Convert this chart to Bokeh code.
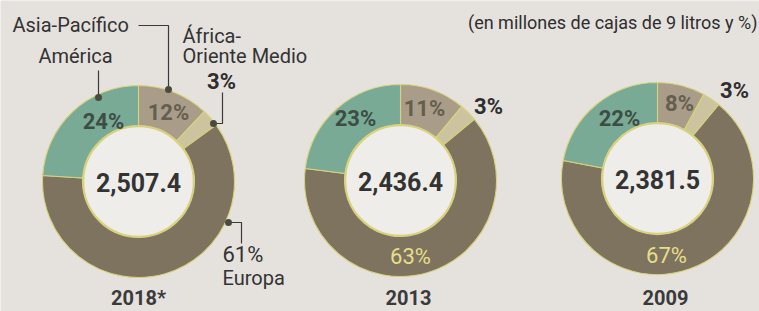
import math
from bokeh.plotting import figure
from bokeh.models import Range1d, ColumnDataSource
from bokeh.core.properties import value
from bokeh.embed import file_html
from bokeh.resources import INLINE

# ---- data ----
years = ["2018*", "2013", "2009"]
totals = ["2,507.4", "2,436.4", "2,381.5"]
regions = ["Asia-Pacífico", "África-Oriente Medio", "Europa", "América"]
asia_pacifico = [12, 11, 8]
africa_oriente_medio = [3, 3, 3]
europa = [61, 63, 67]
america = [24, 23, 22]
subtitle = "(en millones de cajas de 9 litros y %)"

# ---- style ----
W, H = 759, 311
BG = "#e5e2de"
HOLE = "#efede9"
COLORS = ["#a99d89", "#cbc49f", "#7e735f", "#79aa95"]
EDGE = "#d8d27c"
DARK = "#333333"
FONT = value("Roboto")


def P(X, Y):
    """reference-pixel -> data coordinates"""
    return X, H - Y


centers = [P(138, 181), P(400, 180), P(657, 178)]
R_OUT, R_IN = 96, 56

p = figure(width=W, height=H, x_range=Range1d(0, W), y_range=Range1d(0, H),
           output_backend="svg", toolbar_location=None, min_border=0,
           background_fill_color=BG, border_fill_color=BG, outline_line_color=None)
p.axis.visible = False
p.grid.visible = False

# donuts
for i, (cx, cy) in enumerate(centers):
    vals = [asia_pacifico[i], africa_oriente_medio[i], europa[i], america[i]]
    tot = sum(vals)
    cum = 0
    starts, ends = [], []
    for v in vals:
        starts.append(math.pi / 2 - 2 * math.pi * cum / tot)
        cum += v
        ends.append(math.pi / 2 - 2 * math.pi * cum / tot)
    src = ColumnDataSource(dict(x=[cx] * 4, y=[cy] * 4, s=starts, e=ends, c=COLORS))
    p.annular_wedge(x="x", y="y", inner_radius=R_IN, outer_radius=R_OUT,
                    start_angle="s", end_angle="e", direction="clock",
                    fill_color="c", line_color=EDGE, line_width=1.1, source=src)
    p.circle(x=cx, y=cy, radius=R_IN - 1, fill_color=HOLE, line_color=EDGE, line_width=1.5)
    # total in centre
    p.text(x=[cx], y=[cy - 1], text=[totals[i]], text_font=FONT, text_font_size="25px",
           text_font_style="bold", text_color=DARK, text_align="center",
           text_baseline="middle")
    # year
    p.text(x=[cx + (0 if i == 0 else 8)], y=[P(0, 297)[1]], text=[years[i]], text_font=FONT,
           text_font_size="20px", text_font_style="bold", text_color="#3a3a3a",
           text_align="center", text_baseline="middle")

# percentage labels inside the rings (offsets from donut centre, ref px)
label_pos = [
    {"america": (-35, -60), "asia": (30, -69), "europa": None},
    {"america": (-45, -62), "asia": (24, -72), "europa": (10, 76)},
    {"america": (-38, -60), "asia": (22, -75), "europa": (9, 77)},
]
for i, (cx, cy) in enumerate(centers):
    lp = label_pos[i]
    dx, dy = lp["america"]
    p.text(x=[cx + dx], y=[cy - dy], text=[f"{america[i]}%"], text_font=FONT,
           text_font_size="22px", text_font_style="bold", text_color="#3d4d46",
           text_align="center", text_baseline="middle")
    dx, dy = lp["asia"]
    p.text(x=[cx + dx], y=[cy - dy], text=[f"{asia_pacifico[i]}%"], text_font=FONT,
           text_font_size="22px", text_font_style="bold", text_color="#655d4f",
           text_align="center", text_baseline="middle")
    if lp["europa"]:
        dx, dy = lp["europa"]
        p.text(x=[cx + dx], y=[cy - dy], text=[f"{europa[i]}%"], text_font=FONT,
               text_font_size="22px", text_color="#e6de8a",
               text_align="center", text_baseline="middle")

# outside 3% labels for 2013 & 2009
for i, (X, Y) in [(1, (488, 106)), (2, (734, 90))]:
    x, y = P(X, Y)
    p.text(x=[x], y=[y], text=[f"{africa_oriente_medio[i]}%"], text_font=FONT,
           text_font_size="22px", text_font_style="bold", text_color="#2e2e2e",
           text_align="center", text_baseline="middle")

# ---- 2018 annotations ----
def txt(X, Y, s, size="20px", style="normal", align="left", color=DARK):
    x, y = P(X, Y)
    p.text(x=[x], y=[y], text=[s], text_font=FONT, text_font_size=size,
           text_font_style=style, text_color=color, text_align=align,
           text_baseline="middle")


def leader(points, dot):
    xs, ys = zip(*[P(*pt) for pt in points])
    p.line(list(xs), list(ys), line_color="#3a3a3a", line_width=1.2)
    dx, dy = P(*dot)
    p.scatter([dx], [dy], size=7, marker="circle", fill_color="#4a4a40", line_color=None)


txt(12, 24, regions[0])
leader([(138, 25), (168, 25), (168, 89)], (168, 89))
txt(75, 55, regions[3], align="center")
leader([(98, 70), (98, 97)], (98, 97))
txt(182, 35, "África-")
txt(182, 55, "Oriente Medio")
txt(221, 81, f"{africa_oriente_medio[0]}%", size="22px", style="bold", align="center",
    color="#2e2e2e")
leader([(222, 92), (222, 123), (213, 123)], (213, 123))
leader([(228, 222), (241, 222), (241, 243)], (228, 222))
txt(222, 254, f"{europa[0]}%", size="22px")
txt(222, 277, regions[2])

# subtitle
txt(757, 22, subtitle, size="18px", align="right", color="#2e2e2e")

open("out.html", "w").write(file_html(p, INLINE))
